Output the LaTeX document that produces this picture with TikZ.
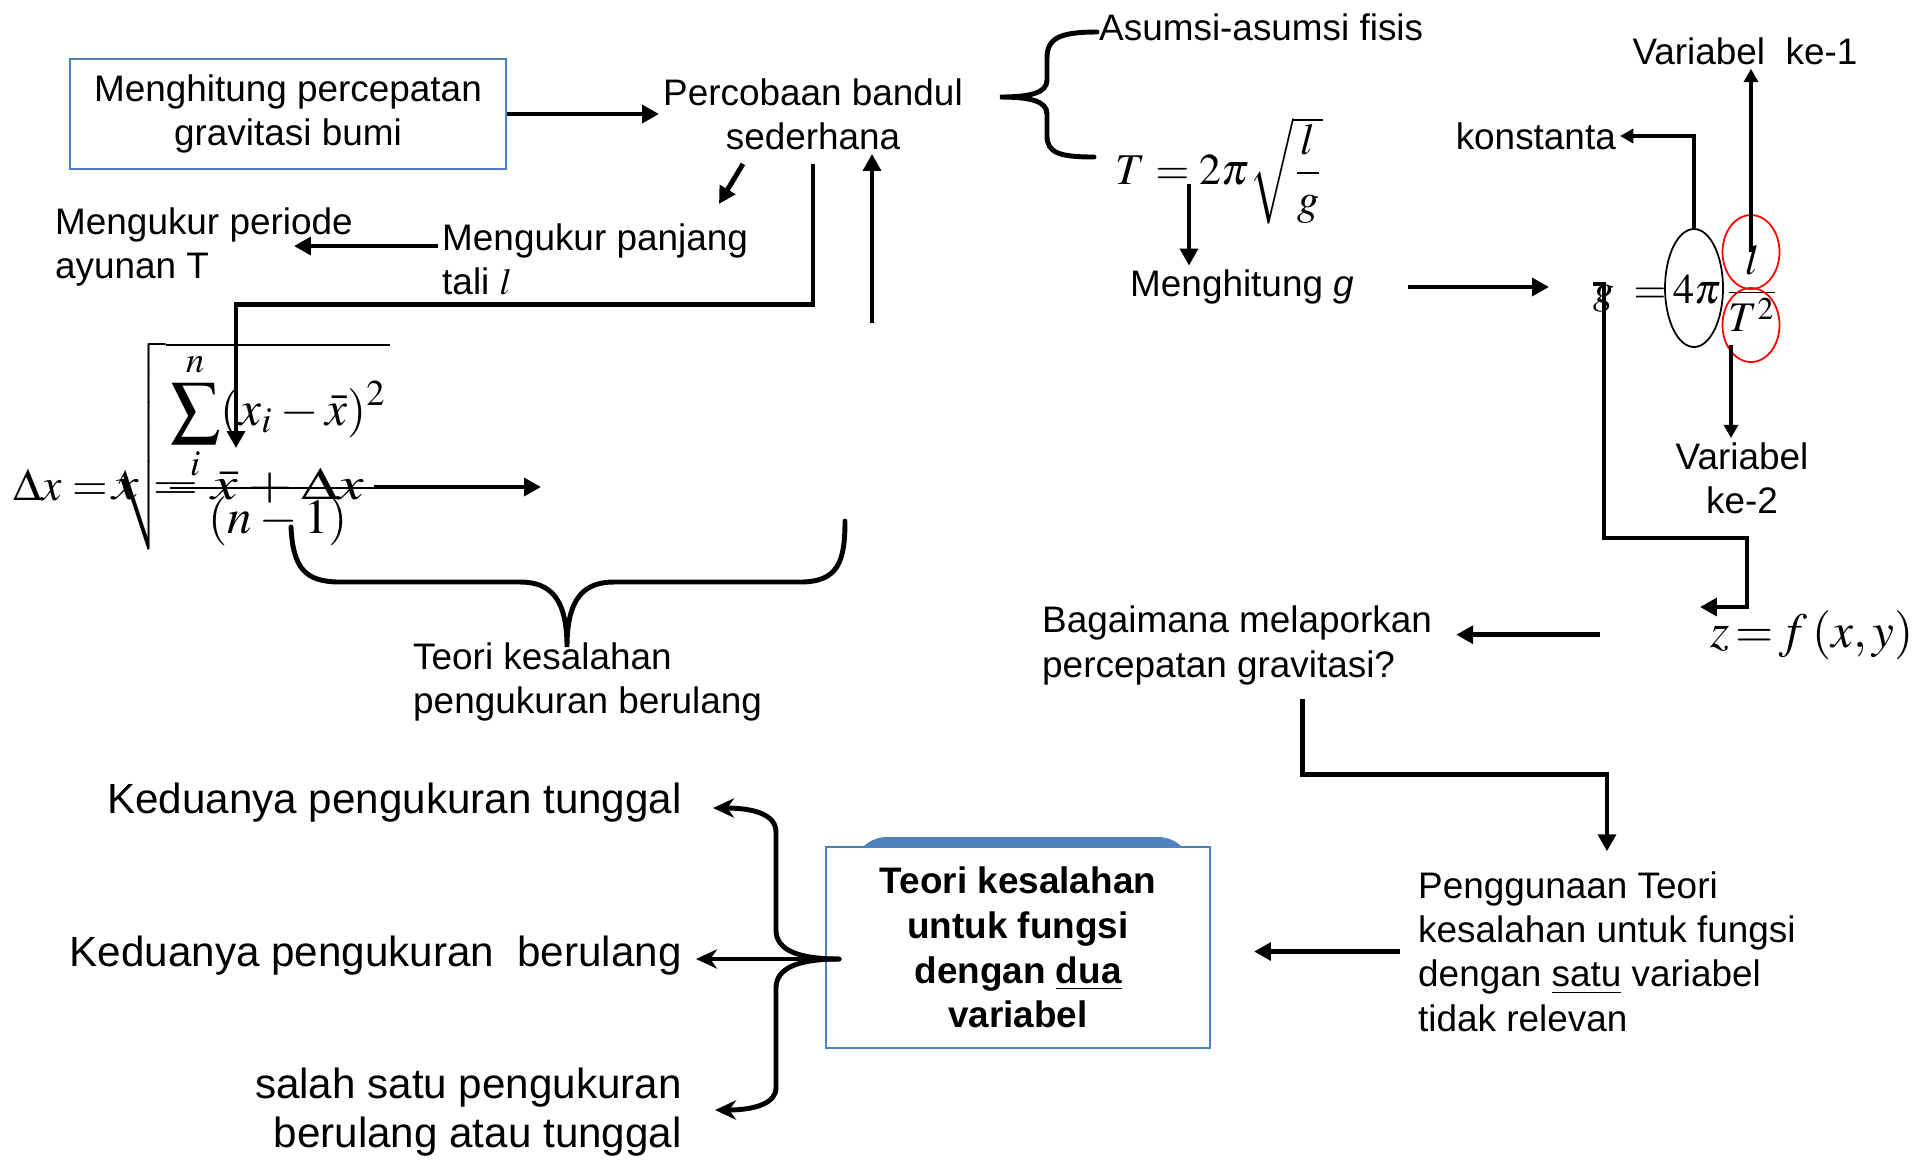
\documentclass[tikz,border=0pt]{standalone}
\usepackage{amsmath}
\usepackage{mathptmx}
\usepackage[no-math]{fontspec}
\setmainfont{Liberation Sans}
\usetikzlibrary{arrows.meta,shapes.geometric}

\definecolor{boxblue}{RGB}{79,129,189}

\tikzset{
  conn/.style={line width=1.4pt,-{Triangle[length=4.8pt,width=5pt]}},
  thinconn/.style={line width=1.1pt,-{Triangle[length=3.8pt,width=4pt]}},
  brace/.style={line width=1.4pt,line cap=round},
  lbl/.style={inner sep=1pt,align=left},
  rumus/.style={inner sep=0pt},
  kotak/.style={draw=boxblue,line width=0.6pt,inner sep=2pt,align=center},
  oval/.style={ellipse,draw,inner sep=0pt,line width=0.5pt,minimum width=0.57cm}
}

\begin{document}
\begin{tikzpicture}[font=\fontsize{10.5}{12.6}\selectfont]
  \useasboundingbox (0,0) rectangle (19.22,-11.59);

  \node[kotak,minimum width=4.36cm,minimum height=1.10cm] (gravbox) at (2.88,-1.14) {Menghitung percepatan\\gravitasi bumi};
  \node[lbl,align=center] (bandul) at (8.13,-1.14) {Percobaan bandul\\sederhana};
  \node[lbl,anchor=west] (asumsi) at (10.95,-0.27) {Asumsi-asumsi fisis};
  \node[rumus,anchor=base west,font=\fontsize{12.5}{15}\selectfont] (rumusT) at (11.15,-1.84) {$T = 2\pi\sqrt{\dfrac{l}{g}}$};
  \node[lbl,anchor=west] (hitungg) at (11.26,-2.87) {Menghitung \textit{g}};

  \node[rumus,anchor=base west,font=\fontsize{12}{14}\selectfont] (geq) at (15.93,-3.03) {$g\;=$};
  \node[rumus,anchor=base,font=\fontsize{12}{14}\selectfont] (fourpi) at (16.97,-3.03) {$4\pi$};
  \node[rumus,anchor=base,font=\fontsize{12}{14}\selectfont] (pecahan) at (17.52,-3.03) {$\dfrac{l}{T^{2}}$};
  \node[oval,minimum width=0.58cm,minimum height=1.18cm] (pioval) at (16.94,-2.88) {};
  \node[oval,draw=red,minimum height=0.74cm] (lcirc) at (17.51,-2.52) {};
  \node[oval,draw=red,minimum height=0.74cm] (tcirc) at (17.51,-3.25) {};

  \node[lbl,anchor=east] (konstanta) at (16.20,-1.36) {konstanta};
  \node[lbl] (ke1) at (17.45,-0.51) {Variabel\ \ ke-1};
  \node[lbl,align=center] (ke2) at (17.42,-4.78) {Variabel\\ke-2};
  \node[rumus,anchor=base west,font=\fontsize{14}{17}\selectfont] (zf) at (17.10,-6.47) {$z\!=\!f\,(x, y)$};

  \node[lbl,anchor=west] (bagaimana) at (10.38,-6.455) {Bagaimana melaporkan\\percepatan gravitasi?};
  \node[lbl,anchor=west] (penggunaan) at (14.14,-9.515) {Penggunaan Teori\\kesalahan untuk fungsi\\dengan \underline{satu} variabel\\tidak relevan};

  \fill[boxblue,rounded corners=3.4mm] (8.53,-8.37) rectangle (11.92,-9.20);
  \node[kotak,fill=white,minimum width=3.84cm,minimum height=2.01cm,font=\fontsize{10.5}{12.75}\selectfont\bfseries] (duabox) at (10.18,-9.475) {Teori kesalahan\\untuk fungsi\\dengan \underline{dua}\\variabel};

  \node[lbl,anchor=east,align=right,font=\fontsize{12}{13.9}\selectfont] (tunggal) at (6.86,-8.03) {Keduanya pengukuran tunggal};
  \node[lbl,anchor=east,align=right,font=\fontsize{12}{13.9}\selectfont] (berulang) at (6.86,-9.56) {Keduanya pengukuran\ \ berulang};
  \node[lbl,anchor=east,align=right,font=\fontsize{12}{13.9}\selectfont] (salahsatu) at (6.86,-11.12) {salah satu pengukuran\\berulang atau tunggal};

  \node[lbl,anchor=west] (periode) at (0.51,-2.47) {Mengukur periode\\ayunan T};
  \node[lbl,anchor=west] (panjang) at (4.38,-2.59) {Mengukur panjang\\tali $l$};

  \node[rumus,anchor=base west] (dx) at (0.13,-5.00) {{\fontsize{13}{15}\selectfont$\Delta x =$}\,{\fontsize{14}{17}\selectfont$\sqrt{\dfrac{\displaystyle\sum_{i}^{n}(x_i-\bar{x})^2}{(n-1)}}$}};
  \node[rumus,anchor=base west,font=\fontsize{13}{15}\selectfont] (xhasil) at (1.12,-4.99) {\scalebox{1.3}[1]{$x = \bar{x} + \Delta x$}};
  \node[lbl,anchor=west] (teoriulang) at (4.09,-6.82) {Teori kesalahan\\pengukuran berulang};

  \coordinate (sumtop) at (2.36,-4.48);
  \coordinate (upfoot) at (8.72,-3.23);
  \coordinate (tfoot) at (11.89,-1.84);
  \coordinate (t2foot) at (17.31,-3.45);
  \coordinate (gstub) at (15.93,-2.84);
  \coordinate (ztip) at (17.00,-6.07);
  \coordinate (dxbar) at (3.74,-4.87);
  \coordinate (tipdua) at (8.39,-9.59);

  \draw[conn] (gravbox) -- (bandul);
  \draw[conn] ([shift={(-0.70,-0.10)}]bandul.south) -- ++(-0.24,-0.40);
  \draw[conn] ([yshift=-1mm]bandul.south) -- ++(0,-1.41) -| (sumtop);
  \draw[conn] (upfoot) -- (upfoot |- bandul.south);
  \draw[conn] ([yshift=1.3mm]panjang.west) -- ++(-1.44,0);
  \draw[conn] (tfoot) -- (tfoot |- hitungg.north);
  \draw[conn,shorten <=5mm,shorten >=4.4mm] (hitungg.east) -- (hitungg.east -| geq.west);
  \draw[conn] (gstub) -- ++(0.11,0) |- (17.47,-5.38) |- (ztip);
  \draw[conn,shorten <=1.1cm,shorten >=2mm] (zf.west) -- (zf.west -| bagaimana.east);
  \draw[conn,shorten >=1.6mm] ([shift={(0.65,-0.10)}]bagaimana.south) -- ++(0,-0.75) -| (penggunaan.north);
  \draw[conn,shorten <=1.4mm,shorten >=4.3mm] (penggunaan.west) -- (penggunaan.west -| duabox.east);
  \draw[thinconn] (pioval.north) |- (konstanta.east);
  \draw[thinconn] (lcirc.center) -- (lcirc.center |- ke1.south);
  \draw[thinconn] (t2foot) -- (t2foot |- ke2.north);
  \draw[conn] (dxbar) -- ++(1.67,0);

  \draw[brace] (10.97,-0.32) .. controls (10.60,-0.32) and (10.47,-0.38) .. (10.47,-0.58) -- (10.47,-0.80) .. controls (10.47,-0.93) and (10.30,-0.97) .. (10.00,-0.97) .. controls (10.30,-0.97) and (10.47,-1.01) .. (10.47,-1.14) -- (10.47,-1.36) .. controls (10.47,-1.53) and (10.60,-1.57) .. (10.94,-1.57);
  \draw[brace] (2.91,-5.27) .. controls (2.93,-5.68) and (3.05,-5.82) .. (3.40,-5.82) -- (5.20,-5.82) .. controls (5.50,-5.82) and (5.67,-5.98) .. (5.67,-6.47) .. controls (5.67,-5.98) and (5.84,-5.82) .. (6.14,-5.82) -- (8.00,-5.82) .. controls (8.38,-5.82) and (8.45,-5.62) .. (8.45,-5.21);
  \draw[brace,-{Stealth[length=6pt,width=5.5pt]}] (tipdua) .. controls (7.98,-9.59) and (7.76,-9.50) .. (7.76,-9.30) -- (7.76,-8.32) .. controls (7.76,-8.15) and (7.55,-8.08) .. (7.13,-8.08);
  \draw[brace,-{Stealth[length=6pt,width=5.5pt]}] (tipdua) .. controls (7.98,-9.59) and (7.76,-9.68) .. (7.76,-9.88) -- (7.76,-10.88) .. controls (7.76,-11.03) and (7.55,-11.10) .. (7.15,-11.10);
  \draw[brace,-{Stealth[length=6pt,width=5.5pt]}] (tipdua) -- (6.96,-9.59);
\end{tikzpicture}
\end{document}
